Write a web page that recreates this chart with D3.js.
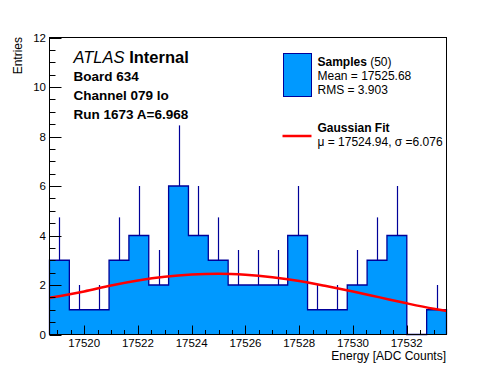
<!DOCTYPE html>
<html>
<head>
<meta charset="utf-8">
<script src="https://cdn.jsdelivr.net/npm/d3@7"></script>
<style>
	body { margin: 0; background: #fff; }
	svg { display: block; font-family: "Liberation Sans", Arial, sans-serif; }
</style>
</head>
<body>
<div id="chart"></div>
<script>
// histogram: 20 bins between xMin and xMax
const xMin = 17518.71;
const xMax = 17533.48;
const counts = [3, 1, 1, 3, 4, 2, 6, 4, 3, 2, 2, 2, 4, 1, 1, 2, 3, 4, 0, 1];
const sampleCount = 50;

// gaussian fit curve
const fitX = [17518.71, 17520, 17521, 17522, 17523, 17524, 17525, 17526, 17527, 17528, 17529, 17530, 17531, 17532, 17533, 17533.48];
const fitY = [1.48, 1.74, 1.98, 2.18, 2.33, 2.42, 2.45, 2.41, 2.31, 2.16, 1.96, 1.74, 1.50, 1.26, 1.04, 0.95];

const xTicks = [17520, 17522, 17524, 17526, 17528, 17530, 17532];
const yTicks = [0, 2, 4, 6, 8, 10, 12];

const infoLines = ['Board 634', 'Channel 079 lo', 'Run 1673 A=6.968'];
const sampleStats = ['Mean = 17525.68', 'RMS = 3.903'];
const fitStats = 'μ = 17524.94, σ =6.076';

const width = 496;
const height = 372;
const margin = { left: 49.5, right: 49.5, top: 37.5, bottom: 37.5 };

const fill_col = '#0099ff';
const line_col = '#000099';

const svg = d3.select('#chart').append('svg')
	.attr('width', width)
	.attr('height', height);

const x = d3.scaleLinear().domain([xMin, xMax]).range([margin.left, width - margin.right]);
const y = d3.scaleLinear().domain([0, 12]).range([height - margin.bottom, margin.top]);

const binW = (xMax - xMin) / counts.length;
const bins = counts.map((c, i) => ({ x0: xMin + i * binW, x1: xMin + (i + 1) * binW, n: c }));

// step outline points
let pts = [[x(xMin), y(0)]];
bins.forEach(b => {
	pts.push([x(b.x0), y(b.n)]);
	pts.push([x(b.x1), y(b.n)]);
});
pts.push([x(xMax), y(0)]);

// filled histogram as one shape (no seams)
svg.append('path')
	.attr('d', d3.line()(pts) + 'Z')
	.style('fill', fill_col)
	.style('stroke', 'none');

svg.append('path')
	.attr('d', d3.line()(pts))
	.style('fill', 'none')
	.style('stroke', line_col)
	.style('stroke-width', 1.3);

// error bars (upper half)
svg.append('g')
	.selectAll('line')
	.data(bins.filter(b => b.n > 0))
	.enter()
	.append('line')
	.attr('x1', d => Math.round(x((d.x0 + d.x1) / 2)) + 0.5)
	.attr('x2', d => Math.round(x((d.x0 + d.x1) / 2)) + 0.5)
	.attr('y1', d => y(d.n))
	.attr('y2', d => y(d.n + Math.sqrt(d.n)))
	.style('stroke', line_col)
	.style('stroke-width', 1.2);

// fit curve
const fitPts = fitX.map((v, i) => [x(v), y(fitY[i])]);
svg.append('path')
	.attr('d', d3.line().curve(d3.curveMonotoneX)(fitPts))
	.style('fill', 'none')
	.style('stroke', '#ff0000')
	.style('stroke-width', 2.5);

// frame
svg.append('rect')
	.attr('x', margin.left)
	.attr('y', margin.top)
	.attr('width', width - margin.left - margin.right)
	.attr('height', height - margin.top - margin.bottom)
	.style('fill', 'none')
	.style('stroke', '#000')
	.style('stroke-width', 1);

// ticks (inward, root style)
const yMinor = d3.range(0, 12.01, 0.5);
svg.append('g')
	.selectAll('line')
	.data(yMinor)
	.enter()
	.append('line')
	.attr('x1', margin.left)
	.attr('x2', d => margin.left + (d % 2 === 0 ? 12 : 6))
	.attr('y1', d => Math.round(y(d)) + 0.5)
	.attr('y2', d => Math.round(y(d)) + 0.5)
	.style('stroke', '#000');

const xMinor = d3.range(17519, 17533.01, 0.5);
svg.append('g')
	.selectAll('line')
	.data(xMinor)
	.enter()
	.append('line')
	.attr('x1', d => Math.round(x(d)) + 0.5)
	.attr('x2', d => Math.round(x(d)) + 0.5)
	.attr('y1', y(0))
	.attr('y2', d => y(0) - (d % 2 === 0 ? 9 : 4.5))
	.style('stroke', '#000');

svg.append('g')
	.selectAll('text')
	.data(yTicks)
	.enter()
	.append('text')
	.attr('x', 46)
	.attr('y', d => y(d))
	.attr('dy', '0.36em')
	.attr('text-anchor', 'end')
	.attr('font-size', '11.5px')
	.text(d => d);

svg.append('g')
	.selectAll('text')
	.data(xTicks)
	.enter()
	.append('text')
	.attr('x', d => x(d))
	.attr('y', 347)
	.attr('text-anchor', 'middle')
	.attr('font-size', '11.5px')
	.text(d => d);

svg.append('text')
	.attr('x', 446)
	.attr('y', 359.5)
	.attr('text-anchor', 'end')
	.attr('font-size', '12px')
	.text('Energy [ADC Counts]');

svg.append('text')
	.attr('transform', 'translate(22,37) rotate(-90)')
	.attr('text-anchor', 'end')
	.attr('font-size', '12px')
	.text('Entries');

// atlas label
const atlas = svg.append('text')
	.attr('x', 73.5)
	.attr('y', 63.3)
	.attr('font-size', '16.5px');
atlas.append('tspan').attr('font-style', 'italic').text('ATLAS');
atlas.append('tspan').attr('font-weight', 'bold').text(' Internal');

svg.append('g')
	.selectAll('text')
	.data(infoLines)
	.enter()
	.append('text')
	.attr('x', 73.5)
	.attr('y', (d, i) => 81 + i * 19)
	.attr('font-size', '13.5px')
	.attr('font-weight', 'bold')
	.text(d => d);

// legend
svg.append('rect')
	.attr('x', 283.5)
	.attr('y', 53.5)
	.attr('width', 28)
	.attr('height', 43)
	.style('fill', fill_col)
	.style('stroke', line_col);

const samp = svg.append('text')
	.attr('x', 317.5)
	.attr('y', 65.7)
	.attr('font-size', '12px');
samp.append('tspan').attr('font-weight', 'bold').text('Samples');
samp.append('tspan').text(' (' + sampleCount + ')');

svg.append('g')
	.selectAll('text')
	.data(sampleStats)
	.enter()
	.append('text')
	.attr('x', 317.5)
	.attr('y', (d, i) => 79.5 + i * 14)
	.attr('font-size', '12px')
	.text(d => d);

svg.append('line')
	.attr('x1', 282.5)
	.attr('x2', 311.5)
	.attr('y1', 136)
	.attr('y2', 136)
	.style('stroke', '#ff0000')
	.style('stroke-width', 2.5);

svg.append('text')
	.attr('x', 317.5)
	.attr('y', 132.3)
	.attr('font-size', '12px')
	.attr('font-weight', 'bold')
	.text('Gaussian Fit');

svg.append('text')
	.attr('x', 317.5)
	.attr('y', 145.5)
	.attr('font-size', '12px')
	.text(fitStats);
</script>
</body>
</html>
